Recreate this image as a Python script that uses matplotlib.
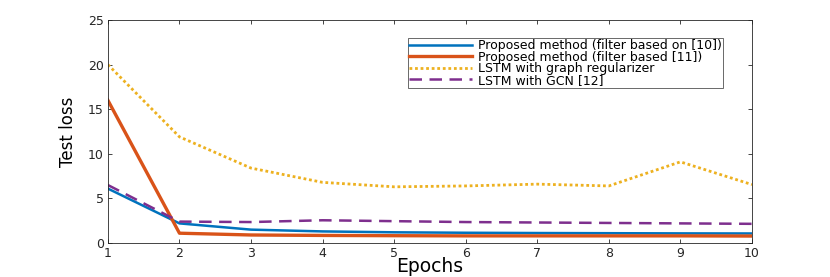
import matplotlib
matplotlib.use("Agg")
import matplotlib.pyplot as plt

epochs = [1, 2, 3, 4, 5, 6, 7, 8, 9, 10]
proposed_10 = [6.1, 2.2, 1.5, 1.3, 1.2, 1.15, 1.12, 1.1, 1.08, 1.07]
proposed_11 = [16.0, 1.1, 0.9, 0.85, 0.82, 0.8, 0.8, 0.8, 0.8, 0.78]
lstm_graph_reg = [20.0, 11.9, 8.4, 6.8, 6.3, 6.4, 6.6, 6.4, 9.1, 6.55]
lstm_gcn = [6.5, 2.4, 2.35, 2.55, 2.45, 2.35, 2.3, 2.25, 2.2, 2.15]

labels = [
    "Proposed method (filter based on [10])",
    "Proposed method (filter based [11])",
    "LSTM with graph regularizer",
    "LSTM with GCN [12]",
]

plt.rcParams["font.family"] = ["DejaVu Sans"]

fig = plt.figure(figsize=(8.3, 2.77), dpi=100)
ax = fig.add_axes([0.130, 0.1227, 0.776, 0.805])

ax.plot(epochs, proposed_10, color="#0072BD", lw=1.8, label=labels[0])
ax.plot(epochs, proposed_11, color="#D95319", lw=2.4, label=labels[1])
ax.plot(epochs, lstm_graph_reg, color="#EDB120", lw=2.0, ls=(0, (1, 1)), label=labels[2])
ax.plot(epochs, lstm_gcn, color="#7E2F8E", lw=1.8, ls=(0, (5, 3)), label=labels[3])

ax.set_xlim(1, 10)
ax.set_ylim(0, 25)
ax.set_xticks(epochs)
ax.set_yticks([0, 5, 10, 15, 20, 25])
ax.tick_params(direction="in", top=True, right=True, length=3, width=0.6,
               colors="#262626", labelsize=9, pad=3)
for s in ax.spines.values():
    s.set_color("#262626")
    s.set_linewidth(0.6)

ax.set_xlabel("Epochs", fontsize=13.5, labelpad=-2)
ax.set_ylabel("Test loss", fontsize=12, labelpad=8)

# legend: wide text in the original, keep rows tight
leg = ax.legend(loc="upper right", bbox_to_anchor=(0.955, 0.919), fontsize=9,
                frameon=True, fancybox=False, borderpad=0.1, labelspacing=-0.12,
                handlelength=5.0, handletextpad=0.5, borderaxespad=0)
leg.get_frame().set_edgecolor("#262626")
leg.get_frame().set_linewidth(0.6)

fig.savefig("out.png", dpi=100)
